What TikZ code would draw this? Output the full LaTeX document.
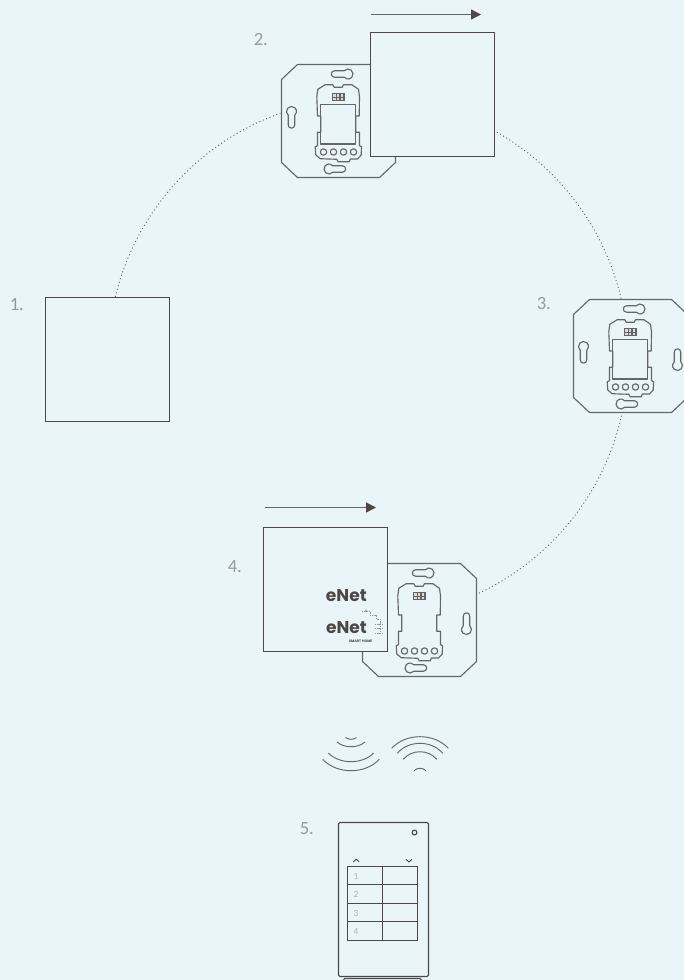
\documentclass[tikz,border=0pt]{standalone}
\usepackage{fontspec}
\setmainfont{Carlito}
\newfontfamily\logofont{Poppins}
\usetikzlibrary{arrows.meta}
\definecolor{bg}{HTML}{E9F5F8}
\definecolor{ink}{HTML}{4D4847}
\definecolor{plategray}{HTML}{666666}
\definecolor{labelgray}{HTML}{9A9A9A}
\tikzset{
  platepen/.style={draw=plategray,line width=0.85pt,line join=round},
  coverbox/.style={draw=ink,fill=bg,line width=0.85pt,minimum size=93pt,inner sep=0pt,outer sep=0pt},
  ringline/.style={draw=plategray,line width=0.7pt,dash pattern=on 0.75pt off 2pt},
  steplabel/.style={text=labelgray,font=\fontsize{14pt}{15pt}\selectfont,inner sep=0pt},
  movearrow/.style={draw=plategray,line width=1pt,-{Triangle[length=7.5pt,width=7.5pt,color=ink]}},
  wave/.style={draw=plategray,line width=0.7pt},
  logotext/.style={text=ink,inner sep=0pt,font=\logofont\fontsize{12.8pt}{13pt}\selectfont\bfseries},
  keyslot/.pic={\path[platepen] (-3.2,3.84) arc (129.8:410.2:5) -- (3.2,13.5) arc (0:180:3.2) -- cycle;},
  device/.pic={
    \path[platepen] (-41,-56.5) -- (41,-56.5) -- (57,-41.5) -- (57,41.5) -- (41,56.5) -- (-41,56.5) -- (-57,41.5) -- (-57,-41.5) -- cycle;
    \pic[shift={(-47,-9.5)}] {keyslot};
    \pic[shift={(47,9.5)},rotate=180] {keyslot};
    \pic[shift={(9.5,-47)},rotate=-90] {keyslot};
    \pic[shift={(-9.5,48)},rotate=90] {keyslot};
    \path[platepen] (17.3,-5) -- (20.7,-5) -- (21,-24.3) -- (20,-31.7) -- (13.3,-36.3) -- (5,-36.3) -- (3.7,-33.7) -- (-4.3,-33.7) -- (-5.7,-36.3) -- (-13.3,-36.3) -- (-20.7,-31.7) -- (-21.7,-24.3) -- (-21,-5) -- (-17.7,-5) -- (-17.7,11.3) -- (-21,11.3) -- (-21,24.7) -- (-23.3,25.7) -- (-22.7,34) -- (-18.3,37.7) -- (-1.7,38.3) -- (-0.3,40.7) -- (11,40.7) -- (11.7,38) -- (19,38) -- (22.7,34) -- (23,25.7) -- (21,24.7) -- (21,11.3) -- (17.3,11.3) -- cycle;
    \foreach \cx in {-15,-5,5,15} \path[platepen] (\cx,31) circle[radius=3.2];
    \fill[ink!85] (-6.7,-27.7) rectangle (6,-19.7);
    \foreach \cx in {-5.4,-1.6,2.2} \foreach \cy in {-26.6,-23.2} \fill[bg!80!gray] (\cx,\cy) rectangle ++(2.4,2.4);
  },
  modwindow/.pic={\path[platepen] (-17.7,-16.7) rectangle (17.3,23);},
}
\begin{document}
\begin{tikzpicture}[x=0.75pt,y=-0.75pt]
\useasboundingbox[fill=bg] (0,0) rectangle (684,980);
\coordinate (ringc) at (368,358);
% dotted ring
\coordinate (r1a) at ([shift={(193.6:260)}]ringc);
\draw[ringline] (r1a) arc (193.6:250.3:260);
\coordinate (r2a) at ([shift={(-60.3:260)}]ringc);
\draw[ringline] (r2a) arc (-60.3:-12.8:260);
\coordinate (r3a) at ([shift={(12:260)}]ringc);
\draw[ringline] (r3a) arc (12:65.3:260);
% step 1
\node[coverbox,anchor=north west] (cover1) at (45.5,297.5) {};
\node[steplabel,anchor=west] (l1) at (9.5,305) {1.};
% step 2
\pic at (338.5,121) {device};
\pic at (338.5,121) {modwindow};
\node[coverbox,anchor=north west] (cover2) at (370.5,32.5) {};
\node[steplabel,anchor=west] (l2) at (253.5,40) {2.};
\coordinate (a2s) at (370.5,14.5);
\coordinate (a2e) at (481,14.5);
\draw[movearrow] (a2s) -- (a2e);
% step 3
\pic at (630.5,356) {device};
\pic at (630.5,356) {modwindow};
\node[steplabel,anchor=west] (l3) at (536.5,304) {3.};
% step 4
\pic at (419.5,620) {device};
\node[coverbox,anchor=north west] (cover4) at (263.5,527.5) {};
\node[steplabel,anchor=west] (l4) at (227.5,567) {4.};
\coordinate (a4s) at (265,507.5);
\coordinate (a4e) at (376,507.5);
\draw[movearrow] (a4s) -- (a4e);
\node[logotext] (logo1) at (346.3,596) {eNet};
\node[logotext] (logo2) at (346.5,628) {eNet};
\node[text=ink,inner sep=0pt,font=\logofont\fontsize{2.6pt}{3pt}\selectfont\bfseries] (logo3) at (360.7,641.5) {SMART HOME};
\draw[labelgray,line width=0.3pt,dash pattern=on 0.8pt off 0.5pt] (362,611) -- (370,611) -- (370,615) -- (376,615) -- (376,619) -- (380,619) -- (380,634) (375,624) -- (383,624) (375,628) -- (383,628) (375,633) -- (383,633);
\fill[labelgray] (366,610.5) circle[radius=1];
% waves
\foreach \w/\ey/\cy in {5.5/737.5/739.9,14/742/748.3,22.7/753/764.6,28.3/759.3/774.5}
  \draw[wave] (351-\w,\ey) .. controls (351-0.5*\w,\cy) and (351+0.5*\w,\cy) .. (351+\w,\ey);
\foreach \w/\ey/\cy in {28.3/748.3/732.8,22.7/753.3/740,16.7/759.3/749.2,5.8/770.7/767.5}
  \draw[wave] (420-\w,\ey) .. controls (420-0.5*\w,\cy) and (420+0.5*\w,\cy) .. (420+\w,\ey);
% step 5
\node[steplabel,anchor=west] (l5) at (299.5,829) {5.};
\draw[draw=ink,line width=0.85pt,rounded corners=1pt,fill=bg] (343.5,978.5) rectangle (421.5,990);
\draw[draw=ink,line width=0.85pt,rounded corners=1pt,fill=bg] (338.5,822.5) rectangle (428.5,976.5);
\draw[platepen,draw=ink] (414.5,832.5) circle[radius=2.4];
\draw[ink,line width=0.7pt] (353.3,861.8) -- (356.2,859.2) -- (359.1,861.8);
\draw[ink,line width=0.7pt] (406.2,859.4) -- (409,862) -- (411.8,859.4);
\draw[ink,line width=0.85pt] (347.5,866.5) rectangle (417.5,940.5) (382.5,866.5) -- (382.5,940.5)
  (347.5,884.5) -- (417.5,884.5) (347.5,903.5) -- (417.5,903.5) (347.5,921.5) -- (417.5,921.5);
\foreach \n/\ty in {1/876,2/894,3/913,4/931}
  \node[text=labelgray!75,font=\fontsize{7pt}{8pt}\selectfont,inner sep=0pt] (num\n) at (356,\ty) {\n};
\end{tikzpicture}
\end{document}
